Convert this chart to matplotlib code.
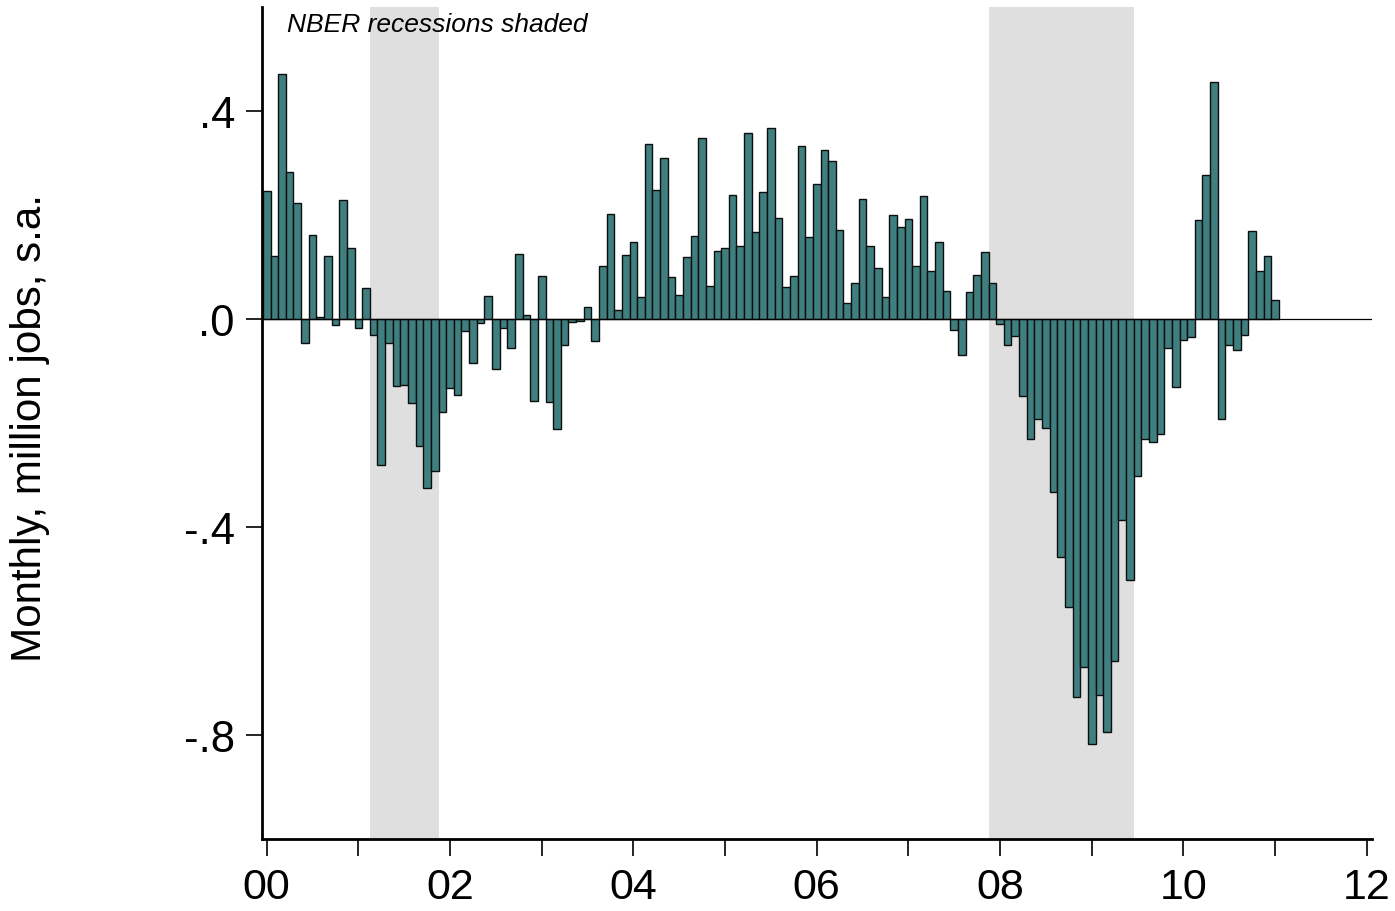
import numpy as np
import matplotlib
matplotlib.use("Agg")
import matplotlib.pyplot as plt

# Monthly change in payroll employment, million jobs, Jan 2000 - Jan 2011
start_year = 2000
values = [
    # 2000
    0.247, 0.121, 0.471, 0.283, 0.224, -0.047, 0.162, 0.003, 0.121, -0.012, 0.229, 0.137,
    # 2001
    -0.017, 0.060, -0.031, -0.281, -0.046, -0.129, -0.126, -0.161, -0.244, -0.325, -0.292, -0.179,
    # 2002
    -0.133, -0.147, -0.024, -0.085, -0.008, 0.044, -0.097, -0.017, -0.056, 0.125, 0.007, -0.157,
    # 2003
    0.082, -0.159, -0.212, -0.050, -0.006, -0.003, 0.024, -0.042, 0.102, 0.201, 0.018, 0.123,
    # 2004
    0.149, 0.043, 0.336, 0.249, 0.309, 0.080, 0.047, 0.120, 0.160, 0.349, 0.064, 0.131,
    # 2005
    0.136, 0.239, 0.141, 0.358, 0.168, 0.245, 0.367, 0.194, 0.062, 0.083, 0.333, 0.157,
    # 2006
    0.260, 0.325, 0.303, 0.172, 0.030, 0.069, 0.231, 0.140, 0.099, 0.043, 0.200, 0.176,
    # 2007
    0.193, 0.102, 0.237, 0.092, 0.148, 0.054, -0.021, -0.070, 0.052, 0.085, 0.128, 0.069,
    # 2008
    -0.010, -0.050, -0.033, -0.148, -0.231, -0.192, -0.210, -0.332, -0.457, -0.553, -0.726, -0.670,
    # 2009
    -0.817, -0.724, -0.794, -0.658, -0.386, -0.502, -0.301, -0.231, -0.237, -0.221, -0.056, -0.131,
    # 2010
    -0.040, -0.035, 0.190, 0.276, 0.456, -0.193, -0.050, -0.060, -0.030, 0.170, 0.093, 0.121,
    # 2011
    0.036,
]

# NBER recessions (start month, end month) as (year, month)
recessions = [((2001, 3), (2001, 11)), ((2007, 12), (2009, 6))]

year_ticks = list(range(2000, 2013))
ytick_vals = [0.4, 0.0, -0.4, -0.8]
ytick_labels = [".4", ".0", "-.4", "-.8"]
ylabel = "Monthly, million jobs, s.a."
note = "NBER recessions shaded"

plt.rcParams['font.family'] = ['Liberation Sans', 'DejaVu Sans']

fig = plt.figure(figsize=(13.95, 9.12), dpi=100)
ax = fig.add_axes([262 / 1395, 72 / 912, (1371.7 - 262) / 1395, (840 - 8) / 912])

x = start_year + np.arange(len(values)) / 12.0
bw = 1 / 12.0

for (y0, m0), (y1, m1) in recessions:
    a = y0 + (m0 - 1) / 12.0 - bw / 2
    b = y1 + (m1 - 1) / 12.0 + bw / 2
    ax.axvspan(a, b, color="#dfdfdf", lw=0, zorder=0)

ax.bar(x, values, width=bw, color="#3f7f7f", edgecolor="#0d0d0d", linewidth=1.0, zorder=2)
ax.axhline(0, color="black", lw=0.9, zorder=3)

ax.set_xlim(2000 - 4.7 / 91.6, 2012 + 5.0 / 91.6)
ax.set_ylim(-1.0, 0.6)

ax.set_xticks(year_ticks)
ax.set_xticklabels([f"{y % 100:02d}" if (y % 2 == 0) else "" for y in year_ticks])
ax.set_yticks(ytick_vals)
ax.set_yticklabels(ytick_labels)

for s in ["top", "right"]:
    ax.spines[s].set_visible(False)
ax.spines["left"].set_linewidth(2.0)
ax.spines["bottom"].set_linewidth(2.0)

ax.tick_params(axis="x", direction="out", length=12.5, width=1.2, labelsize=31, pad=8)
ax.tick_params(axis="y", direction="out", length=11.5, width=1.2, labelsize=31.5, pad=8)

ax.text(0.0225, 0.994, note, transform=ax.transAxes, fontsize=19, style="italic",
        ha="left", va="top")

fig.text(30 / 1395, (912 - 428) / 912, ylabel, rotation=90, fontsize=30.3,
         ha="center", va="center")

fig.savefig("out.png", dpi=100)
